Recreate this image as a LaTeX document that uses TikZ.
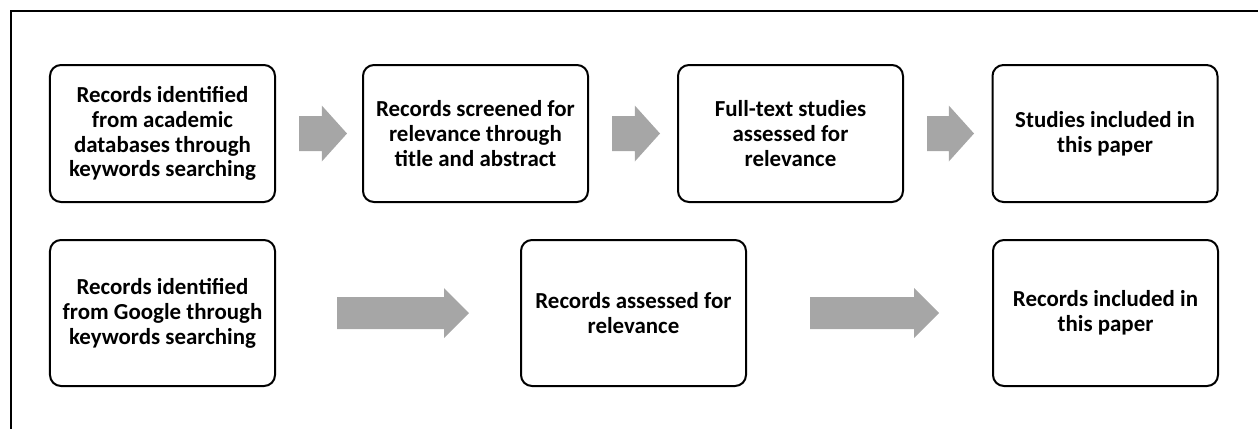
\documentclass[tikz,border=0pt]{standalone}
\usepackage{fontspec}
\setmainfont{Carlito}
\usetikzlibrary{shapes.arrows}
\definecolor{arrowgray}{RGB}{166,166,166}
\tikzset{every picture/.style={line width=2bp}}
\tikzset{
  recbox/.style={draw, rounded corners=11bp, minimum width=225bp, inner sep=0pt,
    align=center, font=\bfseries\fontsize{23}{25}\selectfont},
  grayarrow/.style={single arrow, fill=arrowgray, draw=none, inner xsep=0pt,
    inner ysep=16.5bp, single arrow head extend=10.5bp, single arrow tip angle=96, anchor=tail},
  longarrow/.style={grayarrow, inner ysep=15bp, single arrow head extend=9bp, single arrow tip angle=90}
}

\begin{document}
\begin{tikzpicture}[x=1bp,y=1bp,yscale=-1]
\useasboundingbox (0,0) rectangle (1258,428);
\clip (0,0) rectangle (1258,428);

%Frame: only top and left edges inside the page
\draw [line width=1.8bp] (11,450) -- (11,11) -- (1280,11) ;

%Rounded Rect: first row
\node [recbox, minimum height=137bp] (recDb) at (162.5,133.5) {Records identified\\from academic\\databases through\\keywords searching};
\node [recbox, minimum height=137bp] (recScreen) at (475.5,133.5) {Records screened for\\relevance through\\title and abstract};
\node [recbox, minimum height=137bp] (recFull) at (790.5,133.5) {Full-text studies\\assessed for\\relevance};
\node [recbox, minimum height=137bp] (recStudies) at (1105,133.5) {Studies included in\\this paper};

%Rounded Rect: second row
\node [recbox, minimum height=146bp] (recGoogle) at (162.5,313) {Records identified\\from Google through\\keywords searching};
\node [recbox, minimum height=146bp] (recAssess) at (633.5,313) {Records assessed for\\relevance};
\node [recbox, minimum height=146bp] (recIncl) at (1105.5,313) {Records included in\\this paper};

%Block Arrows: first row
\node [grayarrow, minimum height=48bp] (arrDbScreen) at ([xshift=22bp]recDb.east) {};
\node [grayarrow, minimum height=48bp] (arrScreenFull) at ([xshift=22bp]recScreen.east) {};
\node [grayarrow, minimum height=47bp] (arrFullStudies) at ([xshift=22bp]recFull.east) {};

%Block Arrows: second row
\node [longarrow, minimum height=132bp] (arrGoogleAssess) at ([xshift=60bp]recGoogle.east) {};
\node [longarrow, minimum height=129bp] (arrAssessIncl) at ([xshift=62bp]recAssess.east) {};

\end{tikzpicture}
\end{document}
